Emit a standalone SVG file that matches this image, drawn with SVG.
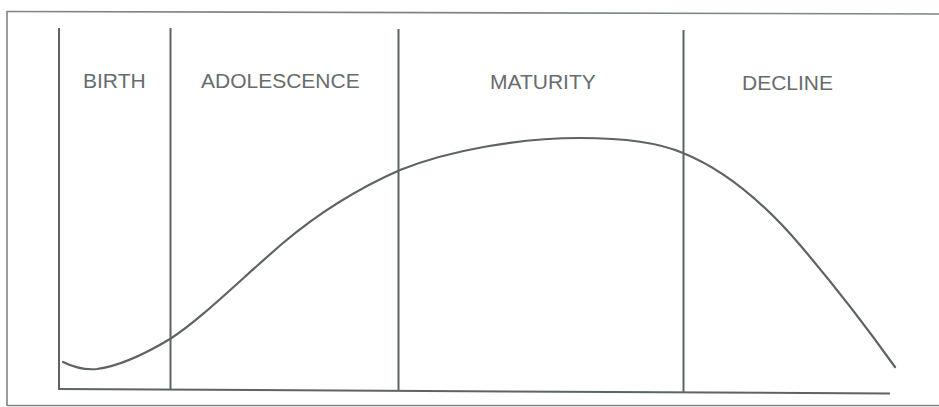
<svg xmlns="http://www.w3.org/2000/svg" width="939" height="407" viewBox="0 0 939 407">
  <style>
    .frame { stroke: #7d8585; stroke-width: 1.6; fill: none; }
    .axis { stroke: #5d6464; stroke-width: 2; fill: none; }
    .curve { stroke: #5d6464; stroke-width: 2.2; fill: none; stroke-linecap: round; }
    .label { font-family: "Liberation Sans", Arial, sans-serif; font-size: 21px; fill: #676c6c; }
  </style>
  <rect width="939" height="407" fill="#ffffff"/>

  <!-- outer frame -->
  <g id="frame">
    <line class="frame" x1="7" y1="11.5" x2="939" y2="14"/>
    <line class="frame" x1="7" y1="11" x2="7" y2="406"/>
    <line class="frame" x1="7" y1="405.5" x2="939" y2="405.5"/>
  </g>

  <!-- axes and stage dividers -->
  <g id="connectors">
    <line class="axis" x1="59" y1="28" x2="59" y2="390"/>
    <line class="axis" x1="58" y1="389" x2="890" y2="393.5"/>
    <line class="axis" x1="170.5" y1="28" x2="170.5" y2="390"/>
    <line class="axis" x1="398.5" y1="29" x2="398.5" y2="391"/>
    <line class="axis" x1="683.5" y1="30" x2="683.5" y2="393"/>
    <path class="curve" d="M63,362 C75,368 86,370 97,369 C120,366 145,354 170,339 C200,320 240,280 283,243 C315,216 350,192 400,170 C450,150 520,138 580,138 C630,138 660,143 683,153 C730,172 770,210 800,245 C840,292 870,332 895,367"/>
  </g>

  <g id="birth"><text class="label" x="83" y="88">BIRTH</text></g>
  <g id="adolescence"><text class="label" x="201" y="88">ADOLESCENCE</text></g>
  <g id="maturity"><text class="label" x="490" y="89">MATURITY</text></g>
  <g id="decline"><text class="label" x="742" y="90">DECLINE</text></g>
</svg>
